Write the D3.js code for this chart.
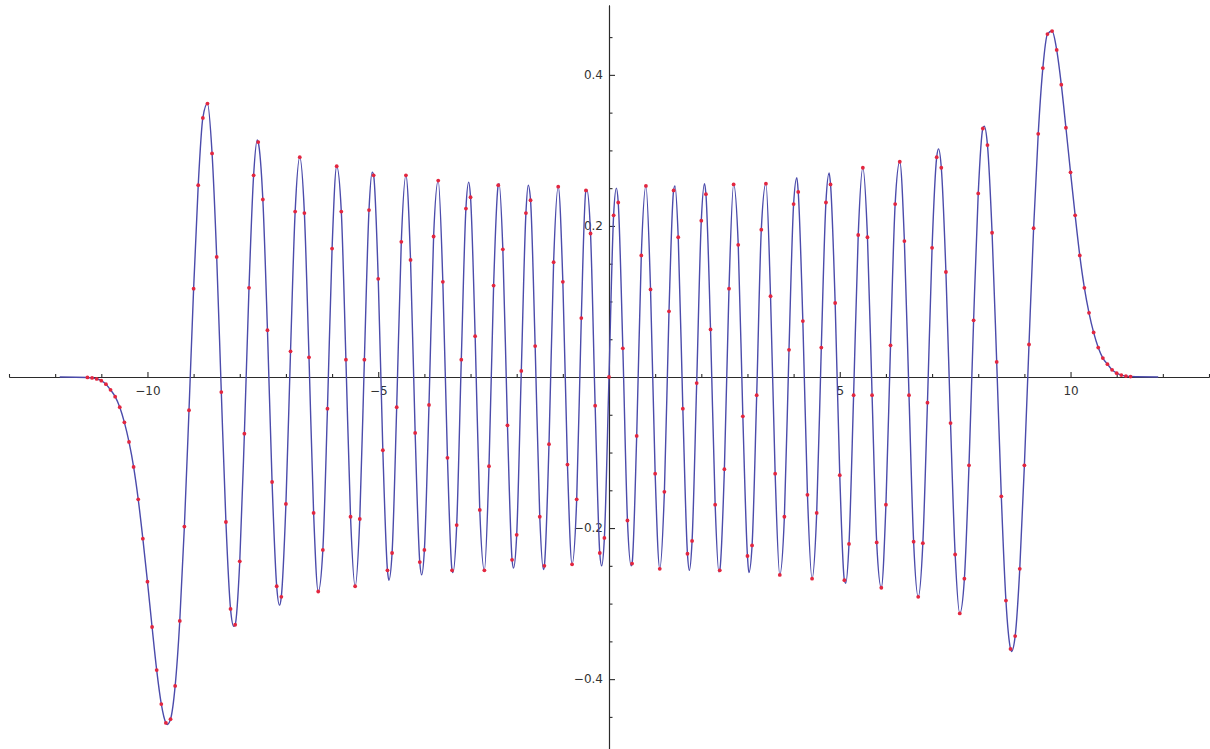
<!DOCTYPE html>
<html>
<head>
<meta charset="utf-8">
<script src="https://cdn.jsdelivr.net/npm/d3@7"></script>
<style>
  body { margin: 0; background: #fff; }
  svg { display: block; }
</style>
</head>
<body>
<div id="chart"></div>
<script>
// sample points (red dots), every 0.1
const dotX = [
  -11.3, -11.2, -11.1, -11.0, -10.9, -10.8, -10.7, -10.6, -10.5, -10.4,
  -10.3, -10.2, -10.1, -10.0, -9.9, -9.8, -9.7, -9.6, -9.5, -9.4,
  -9.3, -9.2, -9.1, -9.0, -8.9, -8.8, -8.7, -8.6, -8.5, -8.4,
  -8.3, -8.2, -8.1, -8.0, -7.9, -7.8, -7.7, -7.6, -7.5, -7.4,
  -7.3, -7.2, -7.1, -7.0, -6.9, -6.8, -6.7, -6.6, -6.5, -6.4,
  -6.3, -6.2, -6.1, -6.0, -5.9, -5.8, -5.7, -5.6, -5.5, -5.4,
  -5.3, -5.2, -5.1, -5.0, -4.9, -4.8, -4.7, -4.6, -4.5, -4.4,
  -4.3, -4.2, -4.1, -4.0, -3.9, -3.8, -3.7, -3.6, -3.5, -3.4,
  -3.3, -3.2, -3.1, -3.0, -2.9, -2.8, -2.7, -2.6, -2.5, -2.4,
  -2.3, -2.2, -2.1, -2.0, -1.9, -1.8, -1.7, -1.6, -1.5, -1.4,
  -1.3, -1.2, -1.1, -1.0, -0.9, -0.8, -0.7, -0.6, -0.5, -0.4,
  -0.3, -0.2, -0.1, 0.0,
  0.1, 0.2, 0.3, 0.4, 0.5, 0.6, 0.7, 0.8, 0.9, 1.0,
  1.1, 1.2, 1.3, 1.4, 1.5, 1.6, 1.7, 1.8, 1.9, 2.0,
  2.1, 2.2, 2.3, 2.4, 2.5, 2.6, 2.7, 2.8, 2.9, 3.0,
  3.1, 3.2, 3.3, 3.4, 3.5, 3.6, 3.7, 3.8, 3.9, 4.0,
  4.1, 4.2, 4.3, 4.4, 4.5, 4.6, 4.7, 4.8, 4.9, 5.0,
  5.1, 5.2, 5.3, 5.4, 5.5, 5.6, 5.7, 5.8, 5.9, 6.0,
  6.1, 6.2, 6.3, 6.4, 6.5, 6.6, 6.7, 6.8, 6.9, 7.0,
  7.1, 7.2, 7.3, 7.4, 7.5, 7.6, 7.7, 7.8, 7.9, 8.0,
  8.1, 8.2, 8.3, 8.4, 8.5, 8.6, 8.7, 8.8, 8.9, 9.0,
  9.1, 9.2, 9.3, 9.4, 9.5, 9.6, 9.7, 9.8, 9.9, 10.0,
  10.1, 10.2, 10.3, 10.4, 10.5, 10.6, 10.7, 10.8, 10.9, 11.0,
  11.1, 11.2, 11.3
];
const dotY = [
  -0.0006, -0.0012, -0.0025, -0.0048, -0.0095, -0.017, -0.026, -0.040, -0.060, -0.086,
  -0.119, -0.162, -0.214, -0.271, -0.331, -0.388, -0.433, -0.458, -0.453, -0.409,
  -0.323, -0.198, -0.044, 0.117, 0.254, 0.343, 0.362, 0.296, 0.159, -0.020,
  -0.192, -0.307, -0.328, -0.244, -0.075, 0.118, 0.267, 0.311, 0.235, 0.062,
  -0.139, -0.277, -0.291, -0.168, 0.034, 0.219, 0.291, 0.217, 0.026, -0.180,
  -0.284, -0.229, -0.042, 0.170, 0.279, 0.219, 0.023, -0.185, -0.277, -0.188,
  0.023, 0.221, 0.267, 0.130, -0.097, -0.256, -0.233, -0.040, 0.179, 0.267,
  0.155, -0.074, -0.245, -0.229, -0.037, 0.186, 0.260, 0.126, -0.107, -0.256,
  -0.196, 0.023, 0.223, 0.238, 0.054, -0.176, -0.256, -0.118, 0.121, 0.254,
  0.169, -0.064, -0.242, -0.209, 0.008, 0.217, 0.234, 0.041, -0.185, -0.250,
  -0.089, 0.152, 0.252, 0.126, -0.116, -0.248, -0.162, 0.078, 0.247, 0.190,
  -0.038, -0.233, -0.213, 0.0,
  0.214, 0.231, 0.038, -0.190, -0.247, -0.078, 0.161, 0.253, 0.116, -0.128,
  -0.254, -0.152, 0.087, 0.247, 0.185, -0.042, -0.234, -0.217, -0.008, 0.207,
  0.242, 0.063, -0.169, -0.256, -0.122, 0.117, 0.255, 0.175, -0.052, -0.237,
  -0.223, -0.024, 0.195, 0.256, 0.107, -0.128, -0.262, -0.185, 0.036, 0.229,
  0.245, 0.074, -0.156, -0.267, -0.180, 0.039, 0.231, 0.255, 0.098, -0.130,
  -0.269, -0.221, -0.024, 0.188, 0.277, 0.185, -0.024, -0.219, -0.279, -0.169,
  0.042, 0.229, 0.285, 0.180, -0.024, -0.218, -0.291, -0.220, -0.034, 0.171,
  0.291, 0.277, 0.139, -0.061, -0.235, -0.313, -0.267, -0.117, 0.075, 0.243,
  0.329, 0.307, 0.191, 0.020, -0.158, -0.296, -0.360, -0.343, -0.254, -0.117,
  0.043, 0.197, 0.322, 0.409, 0.454, 0.458, 0.433, 0.387, 0.330, 0.271,
  0.214, 0.161, 0.118, 0.085, 0.059, 0.039, 0.025, 0.017, 0.0095, 0.005,
  0.0025, 0.0012, 0.0006
];

// crests and troughs of the blue curve
const peakX = [
  -9.57, -8.71, -8.13, -7.62, -7.14, -6.70, -6.30, -5.89, -5.49, -5.13,
  -4.77, -4.40, -4.06, -3.71, -3.38, -3.04, -2.70, -2.38, -2.07, -1.75,
  -1.42, -1.11, -0.80, -0.48, -0.16, 0.16, 0.48, 0.80, 1.10, 1.43,
  1.74, 2.07, 2.38, 2.69, 3.03, 3.39, 3.70, 4.07, 4.39, 4.77,
  5.13, 5.51, 5.89, 6.29, 6.70, 7.14, 7.61, 8.13, 8.72, 9.59
];
const peakY = [
  -0.460, 0.363, -0.330, 0.314, -0.302, 0.294, -0.286, 0.280, -0.278, 0.271,
  -0.269, 0.268, -0.262, 0.262, -0.259, 0.258, -0.257, 0.256, -0.253, 0.254,
  -0.255, 0.254, -0.251, 0.248, -0.250, 0.250, -0.250, 0.256, -0.256, 0.253,
  -0.256, 0.256, -0.258, 0.257, -0.259, 0.259, -0.264, 0.264, -0.269, 0.270,
  -0.273, 0.277, -0.281, 0.286, -0.293, 0.302, -0.315, 0.332, -0.3635, 0.460
];

// flat ends of the curve
const tailX = [-11.9, 11.9];
const tailY = [0, 0];

const xMajor = [-10, -5, 5, 10];
const xMinor = [-13, -12, -11, -9, -8, -7, -6, -4, -3, -2, -1, 1, 2, 3, 4, 6, 7, 8, 9, 11, 12, 13];
const yMajor = [-0.4, -0.2, 0.2, 0.4];
const yMinor = [-0.45, -0.35, -0.3, -0.25, -0.15, -0.1, -0.05, 0.05, 0.1, 0.15, 0.25, 0.3, 0.35, 0.45];

const width = 1210,
    height = 749;

const svg = d3.select('#chart').append('svg')
    .attr('width', width)
    .attr('height', height);

svg.append('rect')
    .attr('width', width)
    .attr('height', height)
    .attr('fill', '#fff');

const x = d3.scaleLinear()
    .domain([-13, 13])
    .range([9, 1209]);

const y = d3.scaleLinear()
    .domain([-0.4925, 0.4925])
    .range([749, 5]);

//------------------------------------------------------------------------------
// axes
const styleAxis = (g) => {
    g.attr('font-family', '"DejaVu Sans", sans-serif')
        .attr('font-size', 12);
    g.selectAll('path, line').attr('stroke', '#2b2b2b').attr('stroke-width', 1.1);
    g.selectAll('text').attr('fill', '#333');
};

svg.append('g')
    .attr('transform', `translate(0,${y(0)})`)
    .call(d3.axisBottom(x).tickValues(xMinor).tickSize(-3).tickSizeOuter(0).tickFormat(''))
    .call(styleAxis);

svg.append('g')
    .attr('transform', `translate(0,${y(0)})`)
    .call(d3.axisBottom(x).tickValues(xMajor).tickSize(-5).tickSizeOuter(0)
        .tickPadding(9).tickFormat(d3.format('d')))
    .call(styleAxis);

svg.append('g')
    .attr('transform', `translate(${x(0)},0)`)
    .call(d3.axisLeft(y).tickValues(yMinor).tickSize(-3.5).tickSizeOuter(0).tickFormat(''))
    .call(styleAxis);

svg.append('g')
    .attr('transform', `translate(${x(0)},0)`)
    .call(d3.axisLeft(y).tickValues(yMajor).tickSize(-6).tickSizeOuter(0)
        .tickPadding(6).tickFormat(d3.format('.1f')))
    .call(styleAxis);

//------------------------------------------------------------------------------
// curve through the dots, crests and ends
const dots = dotX.map((d, i) => ({x: d, y: dotY[i]}));

const linePts = dots.slice();
peakX.forEach((d, i) => {
    // skip a crest that sits on top of a dot
    if (!dotX.some((v) => Math.abs(v - d) < 0.015)) {
        linePts.push({x: d, y: peakY[i]});
    }
});
tailX.forEach((d, i) => linePts.push({x: d, y: tailY[i]}));
linePts.sort((a, b) => a.x - b.x);

const line = d3.line()
    .x((d) => x(d.x))
    .y((d) => y(d.y))
    .curve(d3.curveMonotoneX);

svg.append('path')
    .datum(linePts)
    .attr('d', line)
    .attr('fill', 'none')
    .attr('stroke', '#4b4bab')
    .attr('stroke-width', 1.4);

svg.append('g')
    .selectAll('circle')
    .data(dots)
    .enter()
    .append('circle')
    .attr('cx', (d) => x(d.x))
    .attr('cy', (d) => y(d.y))
    .attr('r', 1.9)
    .attr('fill', '#e3263f');
</script>
</body>
</html>
